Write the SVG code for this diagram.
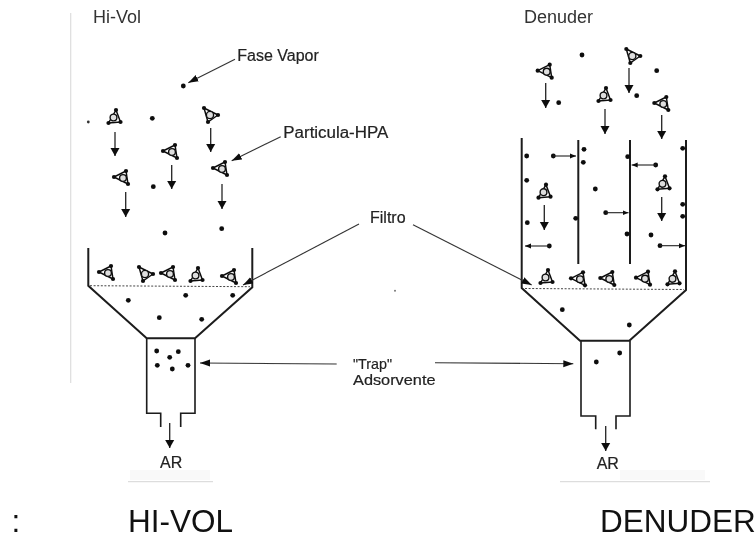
<svg xmlns="http://www.w3.org/2000/svg" width="756" height="538" viewBox="0 0 756 538">
<style>
text{font-family:"Liberation Sans",Arial,sans-serif;fill:#222;font-size:16px;stroke:#222;stroke-width:.2}
.big{font-size:31.5px;fill:#111;stroke:none}
.ttl{font-size:18px;stroke:none;fill:#333}
.wall{fill:none;stroke:#1c1c1c;stroke-width:1.6;stroke-linejoin:miter}
.thick{stroke-width:2}
.filt{fill:none;stroke:#444;stroke-width:1;stroke-dasharray:2 1.6}
.d{fill:#0c0c0c}
.flow{fill:none;stroke:#222;stroke-width:1.3}
.fl{marker-end:url(#big)}
.sm{stroke-width:1.1;marker-end:url(#small)}
.ld{fill:none;stroke:#333;stroke-width:1.1;marker-end:url(#lead)}
.ring{fill:#dedede;stroke:#111;stroke-width:1.4}
.arm{fill:none;stroke:#111;stroke-width:1.5;stroke-linejoin:round}
.scan{fill:#ececec}
.edge{stroke:#ddd;stroke-width:1.2;fill:none}
.soft{filter:url(#soft)}
</style>
<defs>
<filter id="soft" x="-5%" y="-5%" width="110%" height="110%"><feGaussianBlur stdDeviation="0.4"/></filter>
<marker id="big" markerUnits="userSpaceOnUse" markerWidth="11" markerHeight="11" refX="8" refY="5.5" orient="auto"><path d="M0 1L8 5.5L0 10Z" fill="#0c0c0c"/></marker>
<marker id="small" markerUnits="userSpaceOnUse" markerWidth="7" markerHeight="7" refX="6" refY="3.5" orient="auto"><path d="M0 1L6 3.5L0 6Z" fill="#111"/></marker>
<marker id="lead" markerUnits="userSpaceOnUse" markerWidth="11" markerHeight="9" refX="10" refY="4.5" orient="auto"><path d="M0 1L10 4.5L0 8Z" fill="#111"/></marker>
<g id="A"><path class="arm" d="M3 -7L-4.5 6M3 -7L7.5 5M-4.5 6L7.5 5"/><circle class="ring" cx="0.5" cy="0.5" r="3.4"/><circle class="d" cx="3" cy="-7" r="2.1"/><circle class="d" cx="-4.5" cy="6" r="2.1"/><circle class="d" cx="7.5" cy="5" r="2.1"/></g>
<g id="B"><path class="arm" d="M-6 -7L8 0M-6 -7L-2 7M8 0L-2 7"/><circle class="ring" cx="0" cy="0" r="3.6"/><circle class="d" cx="-6" cy="-7" r="2.1"/><circle class="d" cx="8" cy="0" r="2.1"/><circle class="d" cx="-2" cy="7" r="2.1"/></g>
<g id="C"><path class="arm" d="M-9 -1L3 -7M-9 -1L5 6M3 -7L5 6"/><circle class="ring" cx="0" cy="0" r="3.4"/><circle class="d" cx="-9" cy="-1" r="2.1"/><circle class="d" cx="3" cy="-7" r="2.1"/><circle class="d" cx="5" cy="6" r="2.1"/></g>
<circle id="p" class="d" r="2.4"/>
</defs>
<rect width="756" height="538" fill="#fff"/>

<g id="scan-marks" class="soft">
<path class="edge" d="M70.7 13V383"/>
<rect class="scan" x="130" y="470" width="80" height="10" opacity=".3"/>
<path class="edge" d="M128 481.7H213M560 481.7H710"/>
<rect class="scan" x="620" y="470" width="85" height="10" opacity=".3"/>
<circle cx="395" cy="290.7" r="1" fill="#777"/>
<circle cx="88.3" cy="122" r="1.4" fill="#333"/>
</g>

<g id="hi-vol" class="soft">
<path class="wall thick" d="M88.3 248V285.7L146.7 338.3H195L252.3 287.3V248"/>
<path class="filt" d="M90 285.7L250 286.7"/>
<path class="wall" d="M146.7 338.3V413.3H160.7V427M195 338.3V413.3H180.7V427"/>
<g id="hi-vol-particles">
<use href="#A" x="113" y="117"/><use href="#B" x="210" y="115"/><use href="#C" x="172" y="152"/><use href="#C" x="123" y="178"/><use href="#C" x="222" y="169"/>
<use href="#C" x="108" y="273"/><use href="#B" x="145" y="274"/><use href="#C" x="170" y="274"/><use href="#A" x="195" y="275"/><use href="#C" x="231" y="277"/>
<use href="#p" x="183.3" y="86"/><use href="#p" x="152.3" y="118.3"/><use href="#p" x="153.3" y="186.7"/><use href="#p" x="165" y="233"/><use href="#p" x="221.7" y="228.7"/>
<use href="#p" x="128.3" y="300.3"/><use href="#p" x="185.7" y="295.3"/><use href="#p" x="232.7" y="295.3"/><use href="#p" x="159.3" y="317.7"/><use href="#p" x="201.7" y="319.3"/>
<use href="#p" x="156.7" y="351"/><use href="#p" x="178.3" y="351.7"/><use href="#p" x="169.7" y="357.3"/><use href="#p" x="157.3" y="365.3"/><use href="#p" x="172.3" y="369"/><use href="#p" x="188" y="365.3"/>
</g>
</g>

<g id="denuder" class="soft">
<path class="wall thick" d="M521.7 138V288L580 340.7H629.3L686 290V140"/>
<path class="wall thick" d="M578.3 140V264M630 140V264"/>
<path class="filt" d="M525 288.5L684 289.5"/>
<path class="wall" d="M581 340.7V416H595.7V429.3M630 340.7V416H616V429.3"/>
<g id="denuder-particles">
<use href="#C" x="546.7" y="71.7"/><use href="#B" x="632.3" y="56"/><use href="#A" x="603" y="95"/><use href="#C" x="663.3" y="104"/><use href="#A" x="543" y="191.7"/><use href="#A" x="662" y="183.3"/>
<use href="#A" x="545" y="277"/><use href="#C" x="580" y="279.3"/><use href="#C" x="609.3" y="279"/><use href="#C" x="645" y="278.7"/><use href="#A" x="672" y="278.3"/>
<use href="#p" x="582" y="55"/><use href="#p" x="656.7" y="70.7"/><use href="#p" x="558.7" y="102.7"/><use href="#p" x="636.7" y="95.7"/><use href="#p" x="595.3" y="189"/><use href="#p" x="651" y="235"/>
<use href="#p" x="526.7" y="156"/><use href="#p" x="526.7" y="180.3"/><use href="#p" x="527.3" y="222.7"/><use href="#p" x="584" y="149.3"/><use href="#p" x="583.3" y="162.3"/><use href="#p" x="575.7" y="218.3"/>
<use href="#p" x="627.7" y="156.7"/><use href="#p" x="627" y="234"/><use href="#p" x="682.7" y="148.3"/><use href="#p" x="682.7" y="204.3"/><use href="#p" x="682.7" y="216.3"/>
<use href="#p" x="553.3" y="156"/><use href="#p" x="549.3" y="246"/><use href="#p" x="605.7" y="212.7"/><use href="#p" x="655.7" y="165"/><use href="#p" x="660" y="245.7"/>
<use href="#p" x="562.3" y="309.7"/><use href="#p" x="629.3" y="325"/><use href="#p" x="596.3" y="362"/><use href="#p" x="619.7" y="353"/>
</g>
</g>

<g id="connectors" class="soft">
<path class="flow fl" d="M115 132V156"/><path class="flow fl" d="M210.7 128V152"/><path class="flow fl" d="M171.7 165V189"/><path class="flow fl" d="M125.7 192V217"/><path class="flow fl" d="M222 184V209"/><path class="flow fl" d="M169.7 423V448"/>
<path class="flow fl" d="M545.7 83V108"/><path class="flow fl" d="M629 68V93"/><path class="flow fl" d="M605 109V134"/><path class="flow fl" d="M661.7 115V139"/><path class="flow fl" d="M544.3 205V230"/><path class="flow fl" d="M661.7 197V221"/><path class="flow fl" d="M605.7 426V451"/>
<path class="flow sm" d="M553.3 156H576"/><path class="flow sm" d="M549.3 246H525"/><path class="flow sm" d="M605.7 212.7H628.5"/><path class="flow sm" d="M655.7 165H631.7"/><path class="flow sm" d="M660 245.7H685"/>
<path class="ld" d="M235 59.3L188.3 82.7"/>
<path class="ld" d="M280.7 136.7L231.7 160.7"/>
<path class="ld" d="M359 224L243 285"/>
<path class="ld" d="M413 224.7L531.7 285"/>
<path class="ld" d="M336.7 364L200 363"/>
<path class="ld" d="M435 362.7L573.3 363.7"/>
</g>

<g id="labels">
<text class="ttl" x="93" y="23.3">Hi-Vol</text>
<text class="ttl" x="524" y="23.3">Denuder</text>
<text x="237.3" y="61">Fase Vapor</text>
<text x="283.3" y="137.7" textLength="105" lengthAdjust="spacingAndGlyphs">Particula-HPA</text>
<text x="370" y="223.3">Filtro</text>
<text x="353" y="369" style="font-size:14.4px" textLength="39" lengthAdjust="spacingAndGlyphs">"Trap"</text>
<text x="353" y="385.3" style="font-size:14.4px" textLength="82.5" lengthAdjust="spacingAndGlyphs">Adsorvente</text>
<text x="160" y="468.3">AR</text>
<text x="596.7" y="469">AR</text>
<text class="big" x="11.5" y="531.7">:</text>
<text class="big" x="128" y="531.7">HI-VOL</text>
<text class="big" x="600" y="531.7">DENUDER</text>
</g>
</svg>
